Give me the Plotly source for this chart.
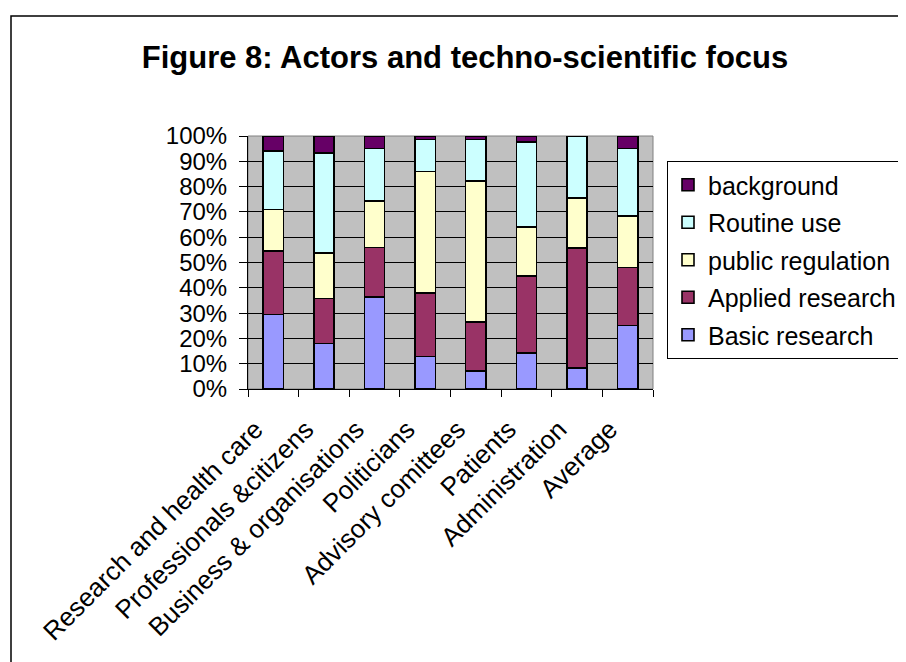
import plotly.graph_objects as go

categories = ["Research and health care", "Professionals &citizens", "Business & organisations",
              "Politicians", "Advisory comittees", "Patients", "Administration", "Average"]
basic_research = [29.5, 18.0, 36.3, 12.9, 7.1, 14.2, 8.2, 25.1]
applied_research = [25.0, 17.7, 19.6, 25.0, 19.5, 30.4, 47.5, 22.9]
public_regulation = [16.5, 18.1, 18.4, 48.0, 55.5, 19.4, 19.7, 20.3]
routine_use = [23.0, 39.5, 20.8, 12.7, 16.5, 33.6, 24.6, 26.7]
background = [6.0, 6.7, 4.9, 1.4, 1.4, 2.4, 0.0, 5.0]

series = [
    ("Basic research", basic_research, "#9999FF"),
    ("Applied research", applied_research, "#993366"),
    ("public regulation", public_regulation, "#FFFFCC"),
    ("Routine use", routine_use, "#CCFFFF"),
    ("background", background, "#660066"),
]

# page body has an 8px margin; figure coordinates = screen - 8
W, H = 898, 654
L, R, T, B = 240, 645, 128, 381

fig = go.Figure()
n = len(series)
for i, (name, vals, col) in enumerate(series):
    fig.add_trace(go.Bar(
        x=categories, y=vals, name=name, legendgroup=name, legendrank=n - i,
        marker=dict(color=col, line=dict(color="black", width=1.6)),
        width=0.4,
    ))

FONT = "Liberation Sans, Arial, sans-serif"
fig.update_layout(
    width=W, height=H,
    barmode="stack",
    paper_bgcolor="white",
    plot_bgcolor="#C0C0C0",
    margin=dict(l=L, r=W - R, t=T, b=H - B, autoexpand=False),
    font=dict(family=FONT, size=25, color="black"),
    title=dict(text="<b>Figure 8: Actors and techno-scientific focus</b>",
               x=457 / W, xanchor="center", y=1 - 49 / H, yanchor="middle",
               font=dict(size=31, family=FONT, color="black")),
    legend=dict(x=(659 - L) / (R - L), xanchor="left",
                y=(B - 153) / (B - T), yanchor="top",
                bordercolor="black", borderwidth=1, bgcolor="white",
                traceorder="grouped", tracegroupgap=2,
                font=dict(size=25, family=FONT)),
    showlegend=True,
    hovermode=False,
)
fig.update_xaxes(
    type="category", tickangle=-45, showline=True, linecolor="black", linewidth=1,
    ticks="outside", tickson="boundaries", ticklen=7, tickcolor="black",
    showgrid=False, tickfont=dict(size=26, family=FONT),
    ticklabelstandoff=14, ticklabelshift=-18,
)
fig.update_yaxes(
    range=[0, 100], dtick=10, ticksuffix="%", showline=True, linecolor="black",
    linewidth=1, ticks="outside", ticklen=8, tickcolor="black",
    showgrid=True, gridcolor="black", gridwidth=1, zeroline=False,
    tickfont=dict(size=24, family=FONT), ticklabelstandoff=7,
)
# plot-area border (gray) and chart frame
fig.add_shape(type="rect", xref="paper", yref="paper", x0=0, x1=1, y0=0, y1=1,
              line=dict(color="#808080", width=1), layer="below")
fig.add_shape(type="rect", xref="paper", yref="paper",
              x0=(3 - L) / (R - L), x1=3, y0=-3, y1=(B - 8) / (B - T),
              line=dict(color="black", width=1.5))

fig.write_html("out.html")
